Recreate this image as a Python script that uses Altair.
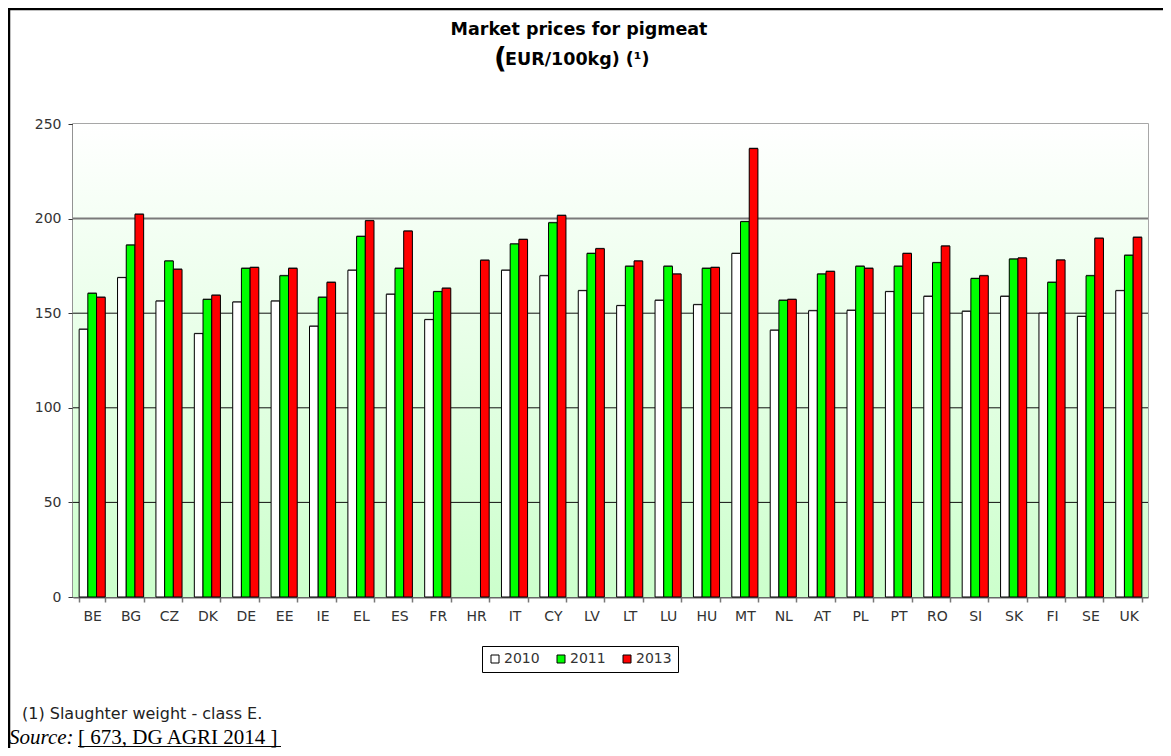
import altair as alt
import pandas as pd

# ---------------- data ----------------
countries = ["BE", "BG", "CZ", "DK", "DE", "EE", "IE", "EL", "ES", "FR", "HR", "IT", "CY", "LV",
             "LT", "LU", "HU", "MT", "NL", "AT", "PL", "PT", "RO", "SI", "SK", "FI", "SE", "UK"]
years = ["2010", "2011", "2013"]
v2010 = [141.5, 168.8, 156.4, 139.2, 155.9, 156.4, 143.1, 172.7, 160.0, 146.6, None, 172.7, 169.8, 161.9,
         154.0, 156.8, 154.5, 181.6, 141.0, 151.3, 151.5, 161.4, 158.9, 151.0, 158.9, 150.0, 148.3, 161.9]
v2011 = [160.5, 186.0, 177.6, 157.3, 173.7, 169.8, 158.4, 190.6, 173.7, 161.4, None, 186.6, 197.8, 181.6,
         174.8, 174.8, 173.7, 198.4, 156.8, 170.7, 174.8, 174.8, 176.7, 168.3, 178.6, 166.3, 169.8, 180.6]
v2013 = [158.4, 202.3, 173.2, 159.5, 174.2, 173.7, 166.3, 198.9, 193.4, 163.2, 178.0, 189.0, 201.7, 184.1,
         177.6, 170.7, 174.2, 237.0, 157.3, 172.1, 173.7, 181.6, 185.5, 169.8, 179.2, 178.1, 189.6, 190.1]
y_ticks = [0, 50, 100, 150, 200, 250]
grid_dark = [50, 100, 150]
grid_gray = [200]
bar_colors = ["#ffffff", "#00ff00", "#ff0000"]

title_1 = "Market prices for pigmeat"
title_2a = "("
title_2b = "EUR/100kg) (\u00b9)"
footnote = "(1) Slaughter weight - class E."
source_a = "Source:"
source_b = "[ 673, DG AGRI 2014 ]"

rows = []
for series_year, vals in zip(years, [v2010, v2011, v2013]):
    for c, v in zip(countries, vals):
        if v is not None:
            rows.append({"country": c, "year": series_year, "price": v})
df = pd.DataFrame(rows)

W, H = 1075, 473
FONT = "DejaVu Sans"

yaxis = alt.Axis(values=y_ticks, grid=False, title=None, labelFont=FONT, labelFontSize=14,
                 labelColor="#333333", domainColor="#808080", domainWidth=2, tickColor="#333333",
                 tickSize=5, labelPadding=7)
yenc = alt.Y("price:Q", scale=alt.Scale(domain=[0, 250], nice=False, zero=True), axis=yaxis)
xenc = alt.X("country:N", sort=countries,
             scale=alt.Scale(domain=countries, paddingInner=0.32, paddingOuter=0.16),
             axis=alt.Axis(title=None, labelAngle=0, tickBand="extent", labelFont=FONT,
                           labelFontSize=14, labelColor="#333333", domainColor="#666666",
                           domainWidth=2, tickColor="#777777", tickSize=5, tickWidth=1.5,
                           labelPadding=7))
xoff = alt.XOffset("year:N", scale=alt.Scale(domain=years, paddingInner=0, paddingOuter=0))

one = pd.DataFrame({"k": [0]})

background = alt.Chart(one).mark_rect(
    fill=alt.Gradient(gradient="linear", x1=0, y1=0, x2=0, y2=1,
                      stops=[alt.GradientStop(color="#ffffff", offset=0),
                             alt.GradientStop(color="#ccffcc", offset=1)])
).encode(x=alt.value(0), x2=alt.value(W), y=alt.value(0), y2=alt.value(H))

rules_dark = alt.Chart(pd.DataFrame({"price": grid_dark})).mark_rule(
    color="#111111", strokeWidth=1).encode(y=yenc)
rules_gray = alt.Chart(pd.DataFrame({"price": grid_gray})).mark_rule(
    color="#7a7a7a", strokeWidth=2).encode(y=yenc)

shadow = alt.Chart(df).mark_bar(color="#8a8a8a", xOffset=2, yOffset=-1).encode(
    x=xenc, xOffset=xoff, y=yenc)

bars = alt.Chart(df).mark_bar(stroke="#000000", strokeWidth=1).encode(
    x=xenc, xOffset=xoff, y=yenc,
    fill=alt.Fill("year:N", scale=alt.Scale(domain=years, range=bar_colors),
                  legend=alt.Legend(orient="none", legendX=409, legendY=522, direction="horizontal",
                                    title=None, strokeColor="#000000", padding=6, fillColor="#ffffff",
                                    symbolType="square", symbolSize=64, symbolStrokeColor="#000000",
                                    symbolStrokeWidth=1, labelFont=FONT, labelFontSize=14,
                                    labelColor="#333333", columnPadding=14, labelOffset=2)))


def txt(s, x, y, size, weight="normal", font=FONT, align="center", style="normal", color="#000000"):
    return alt.Chart(pd.DataFrame({"t": [s]})).mark_text(
        font=font, fontSize=size, fontWeight=weight, fontStyle=style, align=align,
        baseline="alphabetic", color=color).encode(text="t:N", x=alt.value(x), y=alt.value(y))


OX, OY = 73, 124  # plot origin in page coordinates
t1 = txt(title_1, 579 - OX, 35 - OY, 17.5, "bold")
t2a = txt(title_2a, 494 - OX, 68 - OY, 28, "bold", align="left")
t2b = txt(title_2b, 505 - OX, 65 - OY, 17.5, "bold", align="left")
fn = txt(footnote, 22 - OX, 719 - OY, 16, color="#222222", align="left")
sa = txt(source_a, 9 - OX, 744 - OY, 21, font="Liberation Serif", style="italic", align="left")
sb = txt(source_b, 78 - OX, 744 - OY, 21, font="Liberation Serif", align="left")

underline = alt.Chart(one).mark_rule(color="#000000", strokeWidth=1).encode(
    x=alt.value(78 - OX), x2=alt.value(281 - OX), y=alt.value(746.5 - OY))
frame_top = alt.Chart(one).mark_rule(color="#000000", strokeWidth=2.5).encode(
    x=alt.value(8 - OX), x2=alt.value(1171 - OX), y=alt.value(9 - OY))
frame_left = alt.Chart(one).mark_rule(color="#000000", strokeWidth=2.5).encode(
    x=alt.value(9 - OX), y=alt.value(9 - OY), y2=alt.value(760 - OY))

chart = alt.layer(
    background, rules_dark, rules_gray, shadow, bars,
    t1, t2a, t2b, fn, sa, sb, underline, frame_top, frame_left
).properties(
    width=W, height=H,
    autosize=alt.AutoSizeParams(type="none"),
    padding={"left": 65, "top": 116, "right": 15, "bottom": 151},
).configure_view(stroke="#8a8a8a", strokeWidth=1.5)

chart.save("out.html", embed_options={"renderer": "svg", "actions": False})
